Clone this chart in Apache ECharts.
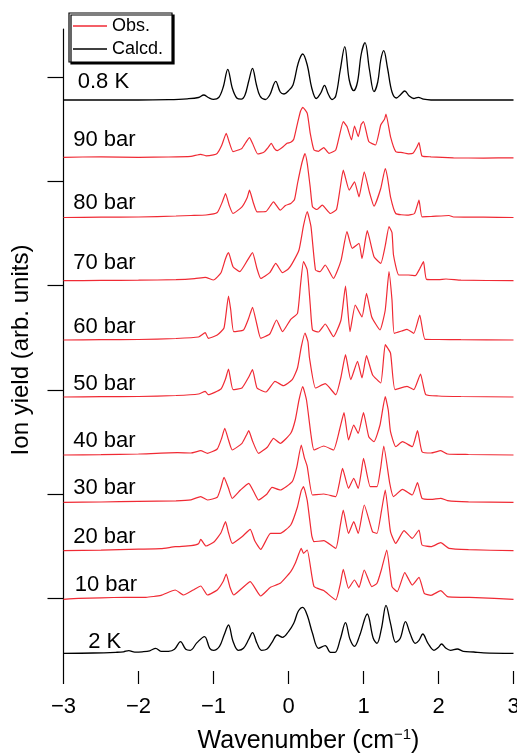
<!DOCTYPE html>
<html>
<head>
<meta charset="utf-8">
<script src="https://cdn.jsdelivr.net/npm/echarts@6/dist/echarts.min.js"></script>
<style>html,body{margin:0;padding:0;background:#fff;}#c{width:517px;height:753px;}</style>
</head>
<body>
<div id="c"></div>
<script>
// ---- data (x in cm^-1, height above each trace's own baseline, arb. units) ----
const xTicks = [-3, -2, -1, 0, 1, 2, 3];
const traceNames = ['0.8 K', '90 bar', '80 bar', '70 bar', '60 bar', '50 bar', '40 bar', '30 bar', '20 bar', '10 bar', '2 K'];
const traceKinds = ['Calcd.', 'Obs.', 'Obs.', 'Obs.', 'Obs.', 'Obs.', 'Obs.', 'Obs.', 'Obs.', 'Obs.', 'Calcd.'];
const offsets = [571, 513.7, 453.5, 390.3, 331, 274, 216, 168.7, 120.3, 71.7, 17.7];
const labelX = [-2.81, -2.87, -2.87, -2.87, -2.87, -2.87, -2.87, -2.87, -2.87, -2.85, -2.67];
const labelY = [589, 531, 468, 408, 344, 287, 230, 183, 134, 86, 29.3];
const yTickValues = [73, 177, 281, 386, 490, 594];

const calc08K = [[-3,0],[-2.0,0],[-1.6,0.4],[-1.35,1.2],[-1.2,2.5],[-1.13,5],[-1.07,2.5],[-1.0,0.6],[-0.93,2.5],[-0.87,13],[-0.81,30.7],[-0.75,12],[-0.69,2],[-0.63,0.8],[-0.58,5],[-0.53,19],[-0.48,31.7],[-0.43,16],[-0.38,4],[-0.31,0.5],[-0.25,5],[-0.17,18.7],[-0.11,8],[-0.06,6],[0.0,9.3],[0.06,15],[0.13,37],[0.19,46],[0.25,35],[0.31,12],[0.37,1.5],[0.43,7],[0.48,14.7],[0.53,6],[0.58,0.5],[0.63,4],[0.69,30],[0.75,53.3],[0.81,20],[0.87,9.3],[0.92,18],[0.97,46],[1.02,57.3],[1.08,30],[1.14,8.3],[1.19,18],[1.23,40],[1.27,49.3],[1.32,32],[1.38,8],[1.44,2],[1.49,5],[1.55,9],[1.61,4],[1.67,1.5],[1.73,2.7],[1.80,0.8],[1.9,0],[3,0]];
const obs90 = [[-3,0],[-2.5,0.5],[-2.0,0],[-1.6,0.3],[-1.3,1],[-1.17,3],[-1.1,1.5],[-1.0,2.5],[-0.95,4],[-0.89,12],[-0.83,24],[-0.79,15],[-0.74,5.7],[-0.68,7],[-0.62,9],[-0.56,16],[-0.52,19.7],[-0.48,14],[-0.41,3.3],[-0.33,5],[-0.27,10],[-0.23,14],[-0.19,9],[-0.15,6.7],[-0.08,10],[-0.02,14],[0.03,15],[0.07,18],[0.12,34],[0.16,46],[0.19,50],[0.25,44],[0.29,24],[0.34,7.3],[0.4,6],[0.47,9.7],[0.54,4],[0.63,7.3],[0.68,22],[0.73,35.7],[0.78,30.7],[0.84,17.3],[0.88,31.3],[0.93,20.7],[0.97,33],[1.0,35.7],[1.07,15.7],[1.16,12.3],[1.23,32.3],[1.28,38],[1.30,43.3],[1.36,20.7],[1.43,5.7],[1.52,4.7],[1.60,3.5],[1.66,4],[1.71,10],[1.74,14.7],[1.78,1.3],[1.9,0.5],[2.2,-0.5],[2.6,-0.8],[3,-0.5]];
const obs80 = [[-3,0],[-2.5,0.3],[-2.0,0.5],[-1.5,1.5],[-1.3,2],[-1.1,2.5],[-0.95,5],[-0.88,16],[-0.84,24],[-0.79,12],[-0.74,4],[-0.62,10.7],[-0.55,20],[-0.52,27.3],[-0.47,15],[-0.42,5.7],[-0.3,6],[-0.2,15.7],[-0.11,7.3],[-0.04,12],[0.03,14],[0.08,18],[0.12,34],[0.18,55],[0.22,64],[0.25,54],[0.29,30],[0.32,10.7],[0.38,8],[0.45,12.3],[0.56,4],[0.64,8],[0.69,30],[0.73,47.3],[0.81,27.3],[0.88,35.7],[0.94,20.7],[1.01,45.7],[1.08,25],[1.14,11.3],[1.23,29],[1.29,49],[1.32,40],[1.36,20.7],[1.43,4],[1.58,2.3],[1.68,4],[1.74,17.3],[1.78,0.7],[1.9,1],[2.14,2],[2.2,0.5],[2.6,0.3],[3,0]];
const obs70 = [[-3,0],[-2.5,0.3],[-2.0,0.5],[-1.5,1],[-1.25,2],[-1.11,3.3],[-1.0,0.7],[-0.9,8],[-0.84,22],[-0.80,28],[-0.74,14],[-0.65,9],[-0.55,20],[-0.48,28],[-0.42,12],[-0.37,2.3],[-0.25,8],[-0.17,17.3],[-0.08,8],[0.0,12],[0.05,17.3],[0.14,30.7],[0.2,55],[0.25,69],[0.3,54],[0.36,10.7],[0.42,9],[0.49,15.7],[0.6,2.3],[0.7,20],[0.78,49],[0.85,32.3],[0.94,37.3],[0.98,22],[1.05,50],[1.14,24],[1.23,17.3],[1.29,35],[1.34,54],[1.38,48],[1.4,25.7],[1.47,5.7],[1.6,5.7],[1.69,5],[1.75,12],[1.80,19],[1.84,1.3],[2.0,1],[2.1,1.7],[2.3,0.5],[3,0]];
const obs60 = [[-3,0],[-2.5,0.3],[-2.0,0.5],[-1.5,1.5],[-1.2,3],[-1.11,7.3],[-1.07,1.7],[-0.95,5],[-0.86,12],[-0.80,44],[-0.77,30],[-0.73,8.3],[-0.6,10],[-0.53,22],[-0.48,32.7],[-0.42,15],[-0.37,1.7],[-0.25,6],[-0.16,20],[-0.08,8.3],[0.03,20.7],[0.12,26.7],[0.16,55],[0.20,78.3],[0.25,70],[0.29,35],[0.32,10],[0.4,8],[0.49,16],[0.6,3.3],[0.7,20],[0.76,54],[0.82,8.3],[0.89,35],[0.98,23],[1.04,46.7],[1.11,23],[1.22,10],[1.29,30],[1.34,68.3],[1.38,40],[1.41,6.7],[1.51,9],[1.58,10.7],[1.67,6.7],[1.75,25],[1.82,0.7],[2.0,0.5],[2.3,0.3],[3,0]];
const obs50 = [[-3,0],[-2.5,0.3],[-2.0,0.5],[-1.5,1.5],[-1.2,3],[-1.11,5.7],[-1.07,2.3],[-0.9,8],[-0.84,18],[-0.80,28],[-0.74,7.3],[-0.62,9],[-0.53,20],[-0.48,27.3],[-0.42,9],[-0.3,5],[-0.18,15.7],[-0.07,11.3],[0.05,17.3],[0.12,29],[0.17,50],[0.22,64],[0.26,55],[0.28,39],[0.36,9],[0.49,13.3],[0.63,2.3],[0.7,20],[0.76,42.3],[0.83,17.3],[0.92,35.7],[0.98,19],[1.04,41.3],[1.12,22.3],[1.23,14],[1.29,52.3],[1.36,44],[1.42,7.3],[1.58,10.7],[1.67,7.3],[1.76,23],[1.83,2.3],[2.0,1],[2.3,0.5],[3,0]];
const obs40 = [[-3,0],[-2.5,0.3],[-2.0,1],[-1.48,2.3],[-1.3,2],[-1.17,4.3],[-1.08,1.7],[-0.95,6],[-0.89,17],[-0.85,26.7],[-0.80,15],[-0.75,5],[-0.62,11.7],[-0.56,20],[-0.53,24.3],[-0.48,14],[-0.4,1.7],[-0.28,8],[-0.2,16.7],[-0.11,11.7],[0.03,21.7],[0.09,35],[0.14,55],[0.19,68.3],[0.24,55],[0.3,20],[0.34,5],[0.47,9],[0.6,5],[0.68,25],[0.74,42.3],[0.8,15],[0.87,30],[0.93,21.7],[1.0,42.3],[1.07,18.3],[1.14,13.3],[1.22,30],[1.29,58.3],[1.33,45],[1.36,23.3],[1.43,8.3],[1.52,13.3],[1.65,8.3],[1.72,24.3],[1.78,3.3],[1.9,2],[2.03,4.3],[2.12,1],[2.4,0.5],[3,0]];
const obs30 = [[-3,0],[-2.5,0.3],[-2.0,1],[-1.5,1.5],[-1.3,2.5],[-1.17,5.7],[-1.08,2.3],[-0.95,5],[-0.9,15],[-0.86,25],[-0.8,14],[-0.75,4],[-0.64,12.3],[-0.53,19],[-0.46,10],[-0.4,2.3],[-0.29,8],[-0.22,15],[-0.11,12.3],[0.05,20.7],[0.11,35],[0.17,57.3],[0.21,45],[0.25,35.7],[0.32,7.3],[0.47,8.3],[0.63,5.7],[0.68,20],[0.72,34],[0.8,14],[0.87,24],[0.93,14],[0.97,30],[1.0,44],[1.09,15.7],[1.18,15.7],[1.23,35],[1.27,56.3],[1.35,19],[1.4,5.7],[1.52,13],[1.65,7.3],[1.72,19.7],[1.78,4],[1.9,3],[2.03,4],[2.12,1.7],[2.4,0.5],[3,0]];
const obs20 = [[-3,0],[-2.5,0.5],[-2.0,1.5],[-1.7,2],[-1.51,4],[-1.3,5],[-1.2,7],[-1.17,11.3],[-1.1,4.7],[-0.99,9],[-0.9,18],[-0.84,29],[-0.8,18],[-0.75,7.3],[-0.62,14],[-0.51,21.3],[-0.45,10],[-0.37,1.3],[-0.24,17.3],[-0.11,17.3],[0.03,25.7],[0.12,44],[0.17,60],[0.2,64],[0.25,50],[0.31,15],[0.34,9],[0.47,10],[0.63,2.3],[0.69,25],[0.73,40.7],[0.8,17.3],[0.87,29],[0.93,17.3],[1.01,45.7],[1.12,19],[1.18,17.3],[1.24,40],[1.29,60.7],[1.36,19],[1.43,7.3],[1.54,20],[1.65,12.3],[1.74,20.7],[1.78,5.7],[1.9,4],[2.03,8],[2.14,2.3],[2.4,1],[3,0]];
const obs10 = [[-3,0],[-2.8,1],[-2.5,1.5],[-2.17,2],[-1.9,2],[-1.7,4],[-1.51,9.3],[-1.4,4.3],[-1.27,9.3],[-1.17,13.3],[-1.08,4.3],[-0.95,9.3],[-0.87,18],[-0.83,25.3],[-0.78,12],[-0.73,4.3],[-0.62,11],[-0.51,17.7],[-0.37,3.3],[-0.24,12],[-0.11,16],[0.03,27.7],[0.09,36],[0.14,46],[0.17,51],[0.2,46],[0.25,49.3],[0.34,12.7],[0.47,8.7],[0.63,-0.7],[0.69,15],[0.73,30],[0.8,11],[0.88,19.3],[0.94,12],[1.01,29.3],[1.11,12.7],[1.18,16],[1.24,30],[1.31,49.3],[1.38,12.7],[1.45,7.7],[1.55,26.7],[1.65,14.3],[1.74,22],[1.81,6],[1.9,4],[2.03,8.7],[2.12,2.7],[2.5,1.7],[3,0]];
const calc2K = [[-3,0],[-2.6,0.3],[-2.3,1],[-2.2,1.5],[-2.13,2.7],[-2.05,1.2],[-1.95,1.5],[-1.85,2.5],[-1.77,5],[-1.7,2],[-1.6,2],[-1.52,4],[-1.44,11.7],[-1.37,4],[-1.31,3],[-1.22,10.7],[-1.12,16.7],[-1.05,5],[-1.0,3],[-0.92,7],[-0.86,18],[-0.80,28.3],[-0.74,12],[-0.67,3],[-0.60,5],[-0.53,14],[-0.48,20.7],[-0.42,10],[-0.36,3],[-0.29,4],[-0.22,11],[-0.15,18.3],[-0.08,16],[0.0,21.7],[0.07,30],[0.13,42],[0.19,46],[0.25,38],[0.32,20],[0.40,5],[0.49,7.7],[0.56,1],[0.62,1],[0.69,14],[0.76,30.7],[0.82,14],[0.88,7],[0.95,18],[1.05,39.3],[1.13,15],[1.18,10],[1.24,25],[1.30,48],[1.36,30],[1.43,11],[1.49,15],[1.56,31.7],[1.62,20],[1.69,10],[1.74,13],[1.79,19.3],[1.86,10],[1.94,3],[2.0,6],[2.04,9.3],[2.1,5],[2.16,3],[2.25,4.3],[2.33,2],[2.47,1.3],[2.6,0.5],[3,0]];

const traces = [calc08K, obs90, obs80, obs70, obs60, obs50, obs40, obs30, obs20, obs10, calc2K];

// ---- chart ----
const FONT = '"Liberation Sans", Arial, Helvetica, sans-serif';
const colors = { 'Obs.': '#f02a34', 'Calcd.': '#000000' };

const series = traces.map((t, i) => {
  const kind = traceKinds[i];
  return {
    type: 'line',
    name: kind,
    data: t.map(p => [p[0], p[1] + offsets[i]]),
    symbol: 'none',
    smooth: kind === 'Calcd.' ? 0.35 : 0.15,
    lineStyle: { color: colors[kind], width: kind === 'Calcd.' ? 1.3 : 1.2 },
    itemStyle: { color: colors[kind] },
    animation: false,
    z: 2,
    markPoint: {
      symbol: 'circle',
      symbolSize: 0,
      silent: true,
      animation: false,
      label: {
        show: true, position: 'right', distance: 0,
        color: '#000', fontSize: 22, fontFamily: FONT,
        formatter: () => traceNames[i]
      },
      data: [{ coord: [labelX[i], labelY[i]] }]
    }
  };
});

const chart = echarts.init(document.getElementById('c'), null, { renderer: 'canvas' });
chart.setOption({
  animation: false,
  backgroundColor: '#fff',
  grid: { left: 63.5, right: 3.5, top: 29, bottom: 82, containLabel: false, outerBoundsMode: 'none' },
  legend: {
    left: 69, top: 13, orient: 'vertical',
    data: [{ name: 'Obs.', icon: 'rect' }, { name: 'Calcd.', icon: 'rect' }],
    itemWidth: 34, itemHeight: 1.5, itemGap: 3,
    padding: [3, 9, 3, 4],
    backgroundColor: '#fff', borderColor: '#000', borderWidth: 1.2,
    shadowColor: '#000', shadowBlur: 0, shadowOffsetX: 2, shadowOffsetY: 2,
    textStyle: { fontSize: 18, fontFamily: FONT, color: '#000', lineHeight: 20 },
    selectedMode: false
  },
  xAxis: {
    type: 'value', min: xTicks[0], max: xTicks[xTicks.length - 1], interval: 1,
    axisLine: { show: false, onZero: false },
    axisTick: { show: true, length: 13, lineStyle: { color: '#000', width: 1.2 } },
    splitLine: { show: false },
    axisLabel: {
      color: '#000', fontSize: 22, fontFamily: FONT, margin: 25,
      formatter: v => (v < 0 ? '\u2212' + Math.abs(v) : String(v))
    },
    name: '{a|Wavenumber (cm}{s|\u22121}{a|)}',
    nameLocation: 'middle', nameGap: 56,
    nameTextStyle: {
      padding: [0, 0, 0, 40],
      rich: {
        a: { fontSize: 25, fontFamily: FONT, color: '#000' },
        s: { fontSize: 15, fontFamily: FONT, color: '#000', padding: [0, 0, 14, 0] }
      }
    }
  },
  yAxis: {
    type: 'value', min: 0, max: 642,
    axisLine: { show: true, onZero: false, lineStyle: { color: '#000', width: 1.2 } },
    axisTick: { show: true, length: 16, customValues: yTickValues, lineStyle: { color: '#000', width: 1.2 } },
    axisLabel: { show: false },
    splitLine: { show: false },
    name: 'Ion yield (arb. units)',
    nameLocation: 'middle', nameGap: 30, nameRotate: 90,
    nameTextStyle: { fontSize: 24, fontFamily: FONT, color: '#000' }
  },
  series: series
});
</script>
</body>
</html>
